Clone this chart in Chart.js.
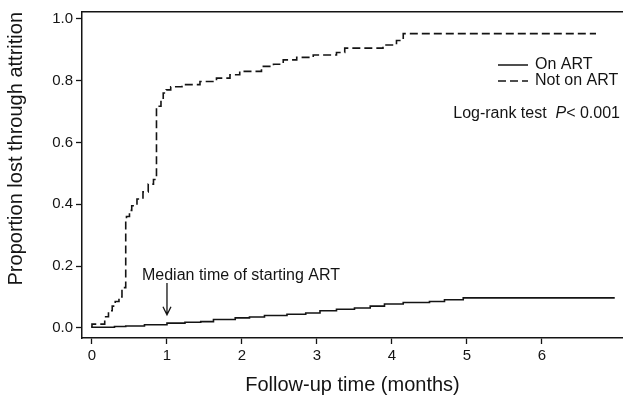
<!DOCTYPE html>
<html>
<head>
<meta charset="utf-8">
<script src="https://cdn.jsdelivr.net/npm/chart.js@4.4.0/dist/chart.umd.min.js"></script>
<style>
  body { margin: 0; background: #fff; }
  #wrap { width: 623px; height: 401px; }
</style>
</head>
<body>
<div id="wrap"><canvas id="kmChart"></canvas></div>
<script>
// Kaplan-Meier style attrition curves (months, proportion)
const onArtTime = [0, 0.30, 0.45, 0.70, 1.00, 1.24, 1.45, 1.62, 1.91, 2.10, 2.30, 2.60, 2.85, 3.04, 3.26, 3.50, 3.71, 3.90, 4.15, 4.50, 4.70, 4.95, 5.20, 6.97];
const onArtProp = [0, 0.002, 0.004, 0.006, 0.010, 0.015, 0.018, 0.020, 0.027, 0.032, 0.035, 0.040, 0.044, 0.048, 0.055, 0.060, 0.064, 0.070, 0.077, 0.082, 0.085, 0.091, 0.097, 0.097];

const notOnArtTime = [0, 0.17, 0.22, 0.27, 0.31, 0.36, 0.40, 0.45, 0.46, 0.50, 0.53, 0.60, 0.68, 0.75, 0.82, 0.86, 0.92, 0.95, 0.99, 1.05, 1.20, 1.44, 1.66, 1.84, 1.97, 2.26, 2.42, 2.55, 2.73, 2.95, 3.26, 3.37, 3.88, 4.06, 4.15, 5.26, 6.72];
const notOnArtProp = [0, 0.012, 0.036, 0.055, 0.070, 0.085, 0.100, 0.130, 0.347, 0.360, 0.380, 0.395, 0.417, 0.440, 0.465, 0.480, 0.717, 0.740, 0.760, 0.770, 0.780, 0.787, 0.797, 0.808, 0.819, 0.830, 0.846, 0.853, 0.867, 0.875, 0.883, 0.891, 0.905, 0.915, 0.930, 0.952, 0.952];

const xTicks = [0, 1, 2, 3, 4, 5, 6];
const yTicks = [0, 0.2, 0.4, 0.6, 0.8, 1.0];

const seriesNames = ["On ART", "Not on ART"];
const medianStart = 1.0;   // median time of starting ART (months)

const fontFam = '"Liberation Sans", Arial, sans-serif';
const ink = '#141414';

function toPoints(xs, ys) {
  return xs.map((v, i) => ({x: v, y: ys[i]}));
}

// draws the legend, the log-rank note and the median arrow
const notesPlugin = {
  id: 'notes',
  afterDatasetsDraw(chart) {
    const {ctx, chartArea: a, scales: {x, y}} = chart;
    ctx.save();
    ctx.fillStyle = ink;
    ctx.strokeStyle = ink;
    ctx.lineWidth = 1.5;
    ctx.font = '16px ' + fontFam;
    ctx.textBaseline = 'middle';

    // legend
    let lx = a.right - 125, ly = a.top + 53;
    [[], [8, 4]].forEach((dash, i) => {
      let yy = ly + i * 16;
      ctx.setLineDash(dash);
      ctx.beginPath();
      ctx.moveTo(lx, yy);
      ctx.lineTo(lx + 30, yy);
      ctx.stroke();
      ctx.setLineDash([]);
      ctx.fillText(seriesNames[i], lx + 37, yy);
    });

    // log-rank test text, P in italics, right aligned
    let part1 = 'Log-rank test  ', part3 = '< 0.001';
    let w1 = ctx.measureText(part1).width, w3 = ctx.measureText(part3).width;
    ctx.font = 'italic 16px ' + fontFam;
    let w2 = ctx.measureText('P').width;
    let tx = a.right - 3 - (w1 + w2 + w3), ty = a.top + 102;
    ctx.font = '16px ' + fontFam;
    ctx.fillText(part1, tx, ty);
    ctx.font = 'italic 16px ' + fontFam;
    ctx.fillText('P', tx + w1, ty);
    ctx.font = '16px ' + fontFam;
    ctx.fillText(part3, tx + w1 + w2, ty);

    // median arrow
    let ax = x.getPixelForValue(medianStart);
    let top = y.getPixelForValue(0.145), tip = y.getPixelForValue(0.042);
    ctx.font = '16px ' + fontFam;
    ctx.fillText('Median time of starting ART', ax - 25, y.getPixelForValue(0.168));
    ctx.lineWidth = 1.3;
    ctx.beginPath();
    ctx.moveTo(ax, top);
    ctx.lineTo(ax, tip);
    ctx.moveTo(ax - 4, tip - 8);
    ctx.lineTo(ax, tip);
    ctx.lineTo(ax + 4, tip - 8);
    ctx.stroke();
    ctx.restore();
  }
};

const kmChart = new Chart(document.getElementById('kmChart'), {
  type: 'line',
  data: {
    datasets: [{
      label: seriesNames[0],
      data: toPoints(onArtTime, onArtProp),
      borderColor: ink,
      borderWidth: 1.6,
      pointRadius: 0,
      stepped: 'after',
      fill: false
    }, {
      label: seriesNames[1],
      data: toPoints(notOnArtTime, notOnArtProp),
      borderColor: ink,
      borderWidth: 1.6,
      borderDash: [8, 4],
      pointRadius: 0,
      stepped: 'after',
      fill: false
    }]
  },
  options: {
    responsive: true,
    maintainAspectRatio: false,
    animation: false,
    layout: {padding: 0},
    plugins: {
      legend: {display: false},
      tooltip: {enabled: false}
    },
    scales: {
      x: {
        type: 'linear',
        min: -0.133,
        max: 7.08,
        afterBuildTicks: s => { s.ticks = xTicks.map(v => ({value: v})); },
        afterFit: s => { s.height = 63; },
        grid: {drawOnChartArea: false, drawTicks: true, tickLength: 6, tickColor: ink, tickWidth: 1.3},
        border: {display: true, color: ink, width: 1.5},
        ticks: {color: ink, font: {family: fontFam, size: 15}, padding: 3, maxRotation: 0, autoSkip: false},
        title: {display: true, text: 'Follow-up time (months)', color: ink, font: {family: fontFam, size: 20}, padding: {top: 0, bottom: 4}}
      },
      x2: {
        type: 'linear',
        position: 'top',
        min: -0.133,
        max: 7.08,
        afterFit: s => { s.height = 10; },
        grid: {display: false},
        ticks: {display: false},
        border: {display: true, color: ink, width: 1.5}
      },
      y: {
        type: 'linear',
        min: -0.033,
        max: 1.022,
        afterBuildTicks: s => { s.ticks = yTicks.map(v => ({value: v})); },
        afterFit: s => { s.width = 82; },
        grid: {drawOnChartArea: false, drawTicks: true, tickLength: 6, tickColor: ink, tickWidth: 1.3},
        border: {display: true, color: ink, width: 1.5},
        ticks: {color: ink, font: {family: fontFam, size: 15}, padding: 3, callback: v => v.toFixed(1)},
        title: {display: true, text: 'Proportion lost through attrition', align: 'end', color: ink, font: {family: fontFam, size: 20}, padding: {top: 4, bottom: 0}}
      }
    }
  },
  plugins: [notesPlugin]
});
</script>
</body>
</html>
